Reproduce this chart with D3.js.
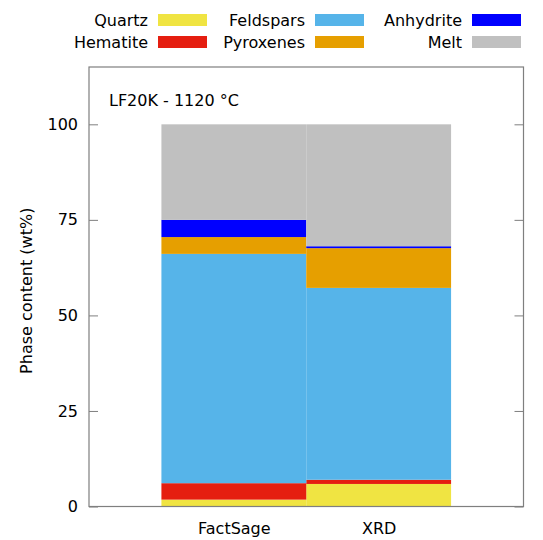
<!DOCTYPE html>
<html><head><meta charset="utf-8">
<script src="https://cdn.jsdelivr.net/npm/d3@7"></script>
<style>body{margin:0;background:#fff}svg{display:block}text{font-family:"DejaVu Sans",sans-serif;fill:#000}</style>
</head><body><svg id="c" width="543" height="540"></svg>
<script>
const categories = ["FactSage", "XRD"];
const phases = ["Quartz", "Hematite", "Feldspars", "Pyroxenes", "Anhydrite", "Melt"];
const colors = ["#f0e442", "#e51e10", "#56b4e9", "#e69f00", "#0000ff", "#c0c0c0"];
const quartz    = [1.8, 5.9];
const hematite  = [4.3, 1.1];
const feldspars = [60.0, 50.2];
const pyroxenes = [4.4, 10.4];
const anhydrite = [4.5, 0.5];
const melt      = [25.0, 31.9];
const yTicks = [0, 25, 50, 75, 100];
const title = "LF20K - 1120 °C";
const yLabel = "Phase content (wt%)";

const series = [quartz, hematite, feldspars, pyroxenes, anhydrite, melt];
const table = categories.map((c, i) => {
  const o = {cat: c, idx: i};
  phases.forEach((p, j) => o[p] = series[j][i]);
  return o;
});
const stack = d3.stack().keys(phases)(table);

const svg = d3.select("#c");
const L = 89, R = 523.5, T = 67, B = 506.5;
const x = d3.scaleLinear().domain([-1, 2]).range([L, R]);
const y = d3.scaleLinear().domain([0, 115]).range([B, T]);
const frameColor = "#7f7f7f";

// bars
stack.forEach((s, j) => {
  svg.append("g").selectAll("rect").data(s).join("rect")
    .attr("x", d => x(d.data.idx - 0.5))
    .attr("width", d => x(d.data.idx + 0.5) - x(d.data.idx - 0.5))
    .attr("y", d => y(d[1]))
    .attr("height", d => y(d[0]) - y(d[1]))
    .attr("fill", colors[j]);
});

// axes
const yAxisL = d3.axisLeft(y).tickValues(yTicks).tickSize(-9).tickPadding(11);
const gL = svg.append("g").attr("transform", `translate(${L},0)`).call(yAxisL);
const yAxisR = d3.axisRight(y).tickValues(yTicks).tickSize(-9).tickFormat("");
const gR = svg.append("g").attr("transform", `translate(${R},0)`).call(yAxisR);
[gL, gR].forEach(g => {
  g.select(".domain").remove();
  g.selectAll(".tick line").attr("stroke", frameColor);
  g.selectAll(".tick text").attr("font-size", 16).attr("font-family", "DejaVu Sans").attr("fill", "#000");
});
const xAxis = d3.axisBottom(x).tickValues([0, 1]).tickFormat(i => categories[i]).tickSize(0).tickPadding(16);
const gX = svg.append("g").attr("transform", `translate(0,${B})`).call(xAxis);
gX.select(".domain").remove();
gX.selectAll(".tick text").attr("font-size", 16).attr("font-family", "DejaVu Sans").attr("fill", "#000");

// frame
svg.append("rect").attr("x", L).attr("y", T).attr("width", R - L).attr("height", B - T)
  .attr("fill", "none").attr("stroke", frameColor).attr("stroke-width", 1.2);

// annotation
svg.append("text").attr("x", 109).attr("y", 106).attr("font-size", 16).text(title);

// y label
svg.append("text").attr("transform", `translate(32,${(T + B) / 2 + 4}) rotate(-90)`)
  .attr("text-anchor", "middle").attr("font-size", 16).text(yLabel);

// legend
const colTextEnd = [148, 305, 462];
const rowY = [20, 42];
phases.forEach((p, j) => {
  const c = Math.floor(j / 2), r = j % 2;
  svg.append("text").attr("x", colTextEnd[c]).attr("y", rowY[r] + 6)
    .attr("text-anchor", "end").attr("font-size", 16).text(p);
  svg.append("rect").attr("x", colTextEnd[c] + 10).attr("y", rowY[r] - 6)
    .attr("width", 49).attr("height", 12).attr("fill", colors[j]);
});
</script></body></html>
